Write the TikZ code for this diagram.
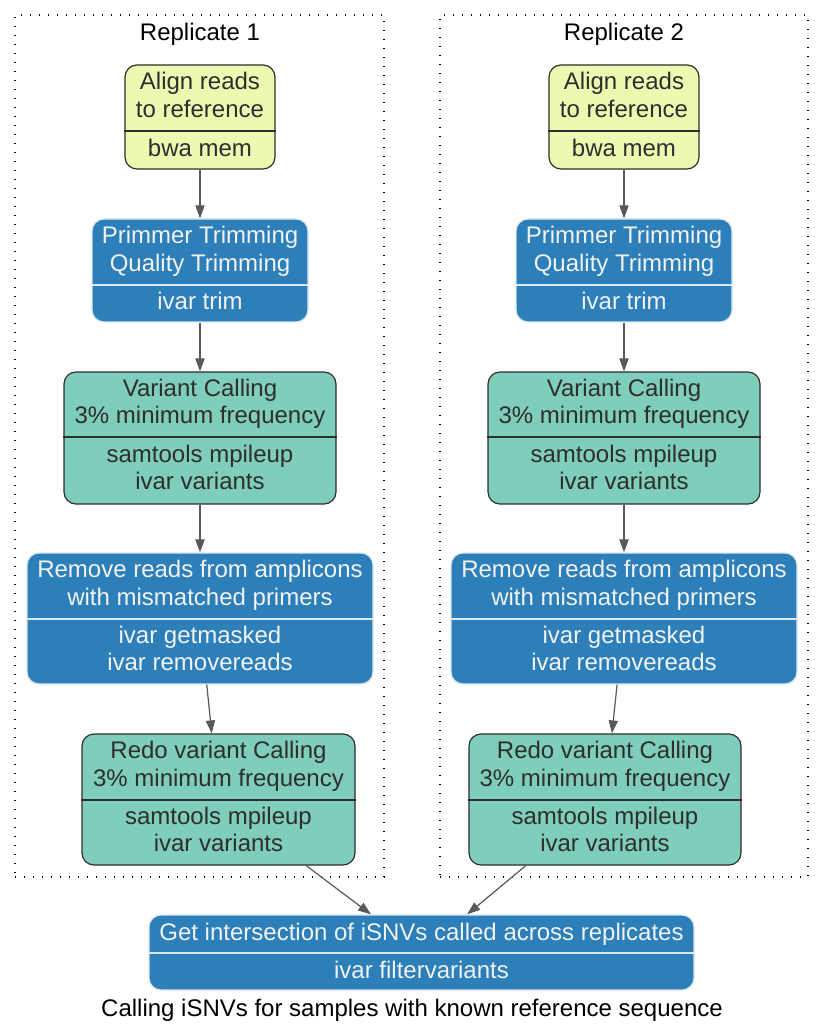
\documentclass[tikz,border=0pt]{standalone}
\usepackage{fontspec}
\setmainfont{Liberation Sans}
\usetikzlibrary{arrows.meta}
\definecolor{stepyellow}{HTML}{EDF8B1}
\definecolor{stepteal}{HTML}{7FCDBB}
\definecolor{stepblue}{HTML}{2C7FB8}
\definecolor{darktext}{HTML}{2E2E2E}
\definecolor{lighttext}{HTML}{F2F2F2}
\definecolor{lightrule}{HTML}{DCE6EF}
\definecolor{edgegray}{HTML}{595959}
\newcommand\StageBox[9]{% name, style, centre x, top y, bottom y, width, divider y, top text, bottom text
    \node[#2, minimum width=#6*0.5pt, minimum height={(#5-#4)*0.5pt}] (#1) at (#3,{(#4+#5)/2}) {};
    \draw[#2 rule] (#1.west |- 0,#7) -- (#1.east |- 0,#7);
    \node[#2 label] (#1-top) at (#3,{(#4+#7)/2+1}) {#8};
    \node[#2 label] (#1-bot) at (#3,{(#7+#5)/2+1}) {#9};
}
\tikzset{%
    >={Triangle[length=6.5pt,width=4.6pt]}, % graphviz like heads
    box font/.style={font=\fontsize{12}{13.75}\selectfont},
    base box/.style={rectangle, rounded corners=6pt, line width=0.6pt, inner sep=0pt},
    box label/.style={box font, align=center, inner sep=0pt,
        execute at begin node=\strut, execute at end node=\strut},
    alignbox/.style={base box, fill=stepyellow, draw=darktext},
    alignbox rule/.style={darktext, line width=0.6pt},
    alignbox label/.style={box label, text=darktext},
    callbox/.style={base box, fill=stepteal, draw=darktext},
    callbox rule/.style={darktext, line width=0.6pt},
    callbox label/.style={box label, text=darktext},
    toolbox/.style={base box, fill=stepblue, draw=lightrule},
    toolbox rule/.style={lightrule, line width=0.6pt},
    toolbox label/.style={box label, text=lighttext},
    cluster/.style={draw=black, line width=0.7pt, dash pattern=on 0.6pt off 3.9pt,
        inner sep=0pt},
    flow/.style={->, draw=edgegray, fill=edgegray, line width=0.6pt}
}
\begin{document}
\begin{tikzpicture}[x=0.5pt, y=-0.5pt] % pixel grid, y down

    \useasboundingbox (0,0) rectangle (824,1036);

    % replicate clusters
    \node[cluster, minimum width=369*0.5pt, minimum height=862*0.5pt] (rep1) at (199.5,446) {};
    \node[cluster, minimum width=368*0.5pt, minimum height=862*0.5pt] (rep2) at (624,446) {};
    \node[box label] (rep1-title) at (200,35.5) {Replicate 1};
    \node[box label] (rep2-title) at (624,35.5) {Replicate 2};

    % replicate 1
    \StageBox{align1}{alignbox}{200}{65}{169}{150}{131}{Align reads\\to reference}{bwa mem}
    \StageBox{trim1}{toolbox}{200}{219}{322}{216}{285}{Primmer Trimming\\Quality Trimming}{ivar trim}
    \StageBox{call1}{callbox}{200}{372}{504}{272}{437}{Variant Calling\\3\% minimum frequency}{samtools mpileup\\ivar variants}
    \StageBox{remove1}{toolbox}{200}{553}{684}{346}{619}{Remove reads from amplicons\\with mismatched primers}{ivar getmasked\\ivar removereads}
    \StageBox{redo1}{callbox}{218.5}{734}{865}{273}{800}{Redo variant Calling\\3\% minimum frequency}{samtools mpileup\\ivar variants}

    % replicate 2
    \StageBox{align2}{alignbox}{624}{65}{169}{150}{131}{Align reads\\to reference}{bwa mem}
    \StageBox{trim2}{toolbox}{624}{219}{322}{216}{285}{Primmer Trimming\\Quality Trimming}{ivar trim}
    \StageBox{call2}{callbox}{624}{372}{504}{272}{437}{Variant Calling\\3\% minimum frequency}{samtools mpileup\\ivar variants}
    \StageBox{remove2}{toolbox}{624}{553}{684}{346}{619}{Remove reads from amplicons\\with mismatched primers}{ivar getmasked\\ivar removereads}
    \StageBox{redo2}{callbox}{605}{734}{865}{272}{800}{Redo variant Calling\\3\% minimum frequency}{samtools mpileup\\ivar variants}

    % merge
    \StageBox{final}{toolbox}{421.5}{915}{990}{545}{953}{Get intersection of iSNVs called across replicates}{ivar filtervariants}

    \foreach \r in {1,2}{
        \draw[flow] (align\r) -- (trim\r);
        \draw[flow] (trim\r) -- (call\r);
        \draw[flow] (call\r) -- (remove\r);
        \draw[flow] (remove\r) -- (redo\r);
        \draw[flow] (redo\r) -- (final);
    }

    \node[box label] (caption) at (412,1011) {Calling iSNVs for samples with known reference sequence};

\end{tikzpicture}
\end{document}
